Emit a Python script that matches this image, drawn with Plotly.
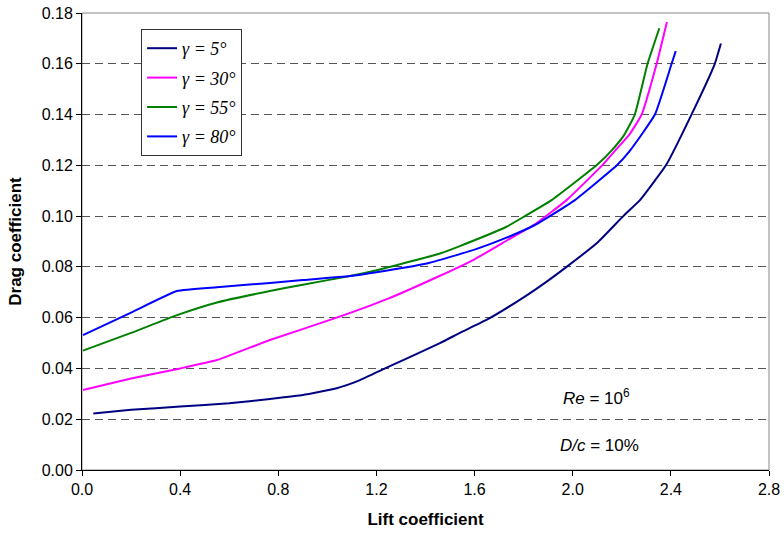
import plotly.graph_objects as go

# Drag polar curves, drag coefficient vs lift coefficient, for four sweep angles
cl_5 = [0.046, 0.2, 0.4, 0.6, 0.766, 0.9, 1.038, 1.133, 1.235, 1.459, 1.54, 1.656, 1.8,
        1.894, 1.975, 2.1, 2.206, 2.274, 2.335, 2.38, 2.484, 2.579, 2.604]
cd_5 = [0.0223, 0.0237, 0.0250, 0.0263, 0.0280, 0.0295, 0.0322, 0.0354, 0.0400, 0.0500,
        0.0540, 0.0595, 0.0680, 0.0742, 0.0800, 0.0895, 0.1000, 0.1063, 0.1140, 0.1200,
        0.1400, 0.1600, 0.1680]

cl_30 = [0.004, 0.2, 0.4, 0.55, 0.766, 1.038, 1.248, 1.459, 1.6, 1.73, 1.846,
         1.975, 2.12, 2.179, 2.23, 2.281, 2.342, 2.384]
cd_30 = [0.0315, 0.0360, 0.0400, 0.0433, 0.0512, 0.0600, 0.0675, 0.0765, 0.0830, 0.0903,
         0.0968, 0.1063, 0.1200, 0.1265, 0.1320, 0.1400, 0.1600, 0.1765]

cl_55 = [0.004, 0.2, 0.387, 0.55, 0.766, 0.9, 1.092, 1.214, 1.459, 1.54, 1.73, 1.805,
         1.914, 2.097, 2.16, 2.21, 2.253, 2.305, 2.353]
cd_55 = [0.0470, 0.0540, 0.0610, 0.0660, 0.0705, 0.0730, 0.0764, 0.0790, 0.0853, 0.0882,
         0.0958, 0.1000, 0.1063, 0.1200, 0.1260, 0.1320, 0.1400, 0.1600, 0.1740]

cl_80 = [0.004, 0.2, 0.387, 0.55, 0.766, 0.9, 1.092, 1.2, 1.4, 1.6, 1.73, 1.846,
         1.907, 2.009, 2.18, 2.235, 2.335, 2.403, 2.42]
cd_80 = [0.0531, 0.0620, 0.0705, 0.0720, 0.0737, 0.0748, 0.0764, 0.0779, 0.0812, 0.0868,
         0.0915, 0.0965, 0.1000, 0.1063, 0.1200, 0.1260, 0.1400, 0.1600, 0.1650]

series = [
    ("<i>γ = 5°</i>", cl_5, cd_5, "#000080"),
    ("<i>γ = 30°</i>", cl_30, cd_30, "#FF00FF"),
    ("<i>γ = 55°</i>", cl_55, cd_55, "#008000"),
    ("<i>γ = 80°</i>", cl_80, cd_80, "#0000FF"),
]

x_ticks = [0.0, 0.4, 0.8, 1.2, 1.6, 2.0, 2.4, 2.8]
y_ticks = [0.00, 0.02, 0.04, 0.06, 0.08, 0.10, 0.12, 0.14, 0.16, 0.18]

fig = go.Figure()
for i, (name, xs, ys, color) in enumerate(series):
    fig.add_trace(go.Scatter(
        x=xs, y=ys, mode="lines", name=name, legendgroup=f"g{i}",
        line=dict(color=color, width=2, shape="spline", smoothing=0.4),
    ))

sans = "Liberation Sans, Arial, sans-serif"

fig.update_layout(
    width=784, height=538,
    margin=dict(l=82, r=15, t=13, b=68),
    paper_bgcolor="white", plot_bgcolor="white",
    font=dict(family=sans, size=16, color="black"),
    showlegend=True,
    legend=dict(
        x=0.086, y=0.965, xanchor="left", yanchor="top",
        bgcolor="white", bordercolor="#333333", borderwidth=1,
        font=dict(family="Liberation Serif, Times New Roman, serif", size=18, color="black"),
        itemwidth=30, tracegroupgap=3,
    ),
    xaxis=dict(
        range=[0, 2.8], tickvals=x_ticks, tickformat=".1f", automargin=False,
        showgrid=False, zeroline=False,
        showline=True, linecolor="black", linewidth=1,
        ticks="outside", ticklen=5, tickcolor="black",
        title=dict(text="<b>Lift coefficient</b>", font=dict(size=17)),
    ),
    yaxis=dict(
        range=[0, 0.18], tickvals=y_ticks, tickformat=".2f", automargin=False,
        showgrid=True, gridcolor="#555555", gridwidth=1, griddash="8px,5px",
        zeroline=False,
        showline=True, linecolor="black", linewidth=1,
        ticks="outside", ticklen=5, tickcolor="black",
        title=dict(text="<b>Drag coefficient</b>", font=dict(size=17)),
    ),
    shapes=[dict(
        type="rect", xref="paper", yref="paper", x0=0, y0=0, x1=1, y1=1,
        line=dict(color="#888888", width=1), layer="below",
    )],
    annotations=[
        dict(x=2.097, y=0.0287, xref="x", yref="y", showarrow=False,
             text="<i>Re</i> = 10<sup>6</sup>", font=dict(family=sans, size=17)),
        dict(x=2.11, y=0.0098, xref="x", yref="y", showarrow=False,
             text="<i>D/c</i> = 10%", font=dict(family=sans, size=17)),
    ],
)

fig.write_html("out.html")
